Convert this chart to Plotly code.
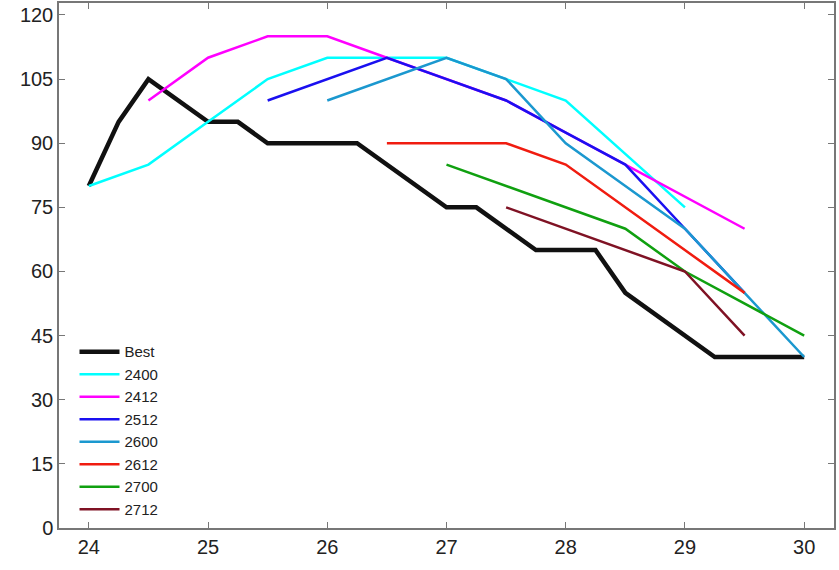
import plotly.graph_objects as go

# Best
best_x = [24, 24.25, 24.5, 25, 25.25, 25.5, 26.25, 27, 27.25, 27.75, 28.25, 28.5, 29.25, 30]
best_y = [80, 95, 105, 95, 95, 90, 90, 75, 75, 65, 65, 55, 40, 40]

x2400 = [24, 24.5, 25, 25.5, 26, 26.5, 27, 27.5, 28, 29]
y2400 = [80, 85, 95, 105, 110, 110, 110, 105, 100, 75]

x2412 = [24.5, 25, 25.5, 26, 26.5, 27, 27.5, 28, 28.5, 29, 29.5]
y2412 = [100, 110, 115, 115, 110, 105, 100, 92.5, 85, 77.5, 70]

x2512 = [25.5, 26, 26.5, 27, 27.5, 28, 28.5, 29, 29.5]
y2512 = [100, 105, 110, 105, 100, 92.5, 85, 70, 55]

x2600 = [26, 26.5, 27, 27.5, 28, 28.5, 29, 29.5, 30]
y2600 = [100, 105, 110, 105, 90, 80, 70, 55, 40]

x2612 = [26.5, 27, 27.5, 28, 28.5, 29, 29.5]
y2612 = [90, 90, 90, 85, 75, 65, 55]

x2700 = [27, 27.5, 28, 28.5, 29, 29.5, 30]
y2700 = [85, 80, 75, 70, 60, 52.5, 45]

x2712 = [27.5, 28, 28.5, 29, 29.5]
y2712 = [75, 70, 65, 60, 45]

series = [
    ("Best", best_x, best_y, "#111111", 4.5),
    ("2400", x2400, y2400, "#00ffff", 2.5),
    ("2412", x2412, y2412, "#ff00ff", 2.5),
    ("2512", x2512, y2512, "#1a10f0", 2.5),
    ("2600", x2600, y2600, "#1b98cf", 2.5),
    ("2612", x2612, y2612, "#f01c10", 2.5),
    ("2700", x2700, y2700, "#10a010", 2.5),
    ("2712", x2712, y2712, "#7f1224", 2.5),
]

fig = go.Figure()
for name, xs, ys, col, w in series:
    fig.add_trace(go.Scatter(x=xs, y=ys, name=name, mode="lines",
                             line=dict(color=col, width=w)))

axis_style = dict(showgrid=False, zeroline=False, showline=True,
                  linecolor="#777777", linewidth=1.5, mirror="allticks",
                  ticks="inside", ticklen=6, tickcolor="#777777",
                  automargin=False,
                  tickfont=dict(size=20, color="#222222"))

fig.update_layout(
    width=839, height=570,
    margin=dict(l=59, r=5, t=3, b=42),
    plot_bgcolor="white", paper_bgcolor="white",
    font=dict(family="Liberation Sans, Arial, sans-serif"),
    xaxis=dict(range=[23.75, 30.25], tickvals=[24, 25, 26, 27, 28, 29, 30],
               **axis_style),
    yaxis=dict(range=[0, 122.8], tickvals=[0, 15, 30, 45, 60, 75, 90, 105, 120],
               **axis_style),
    legend=dict(x=0.02, y=0.005, xanchor="left", yanchor="bottom",
                bgcolor="rgba(0,0,0,0)", font=dict(size=15, color="#222222"),
                tracegroupgap=0, itemwidth=40),
    showlegend=True,
)

# page has a default 8px body margin; drop it so the figure sits at 0,0
fig.write_html("out.html", config={"displayModeBar": False},
               post_script="document.body.style.margin='0';")
